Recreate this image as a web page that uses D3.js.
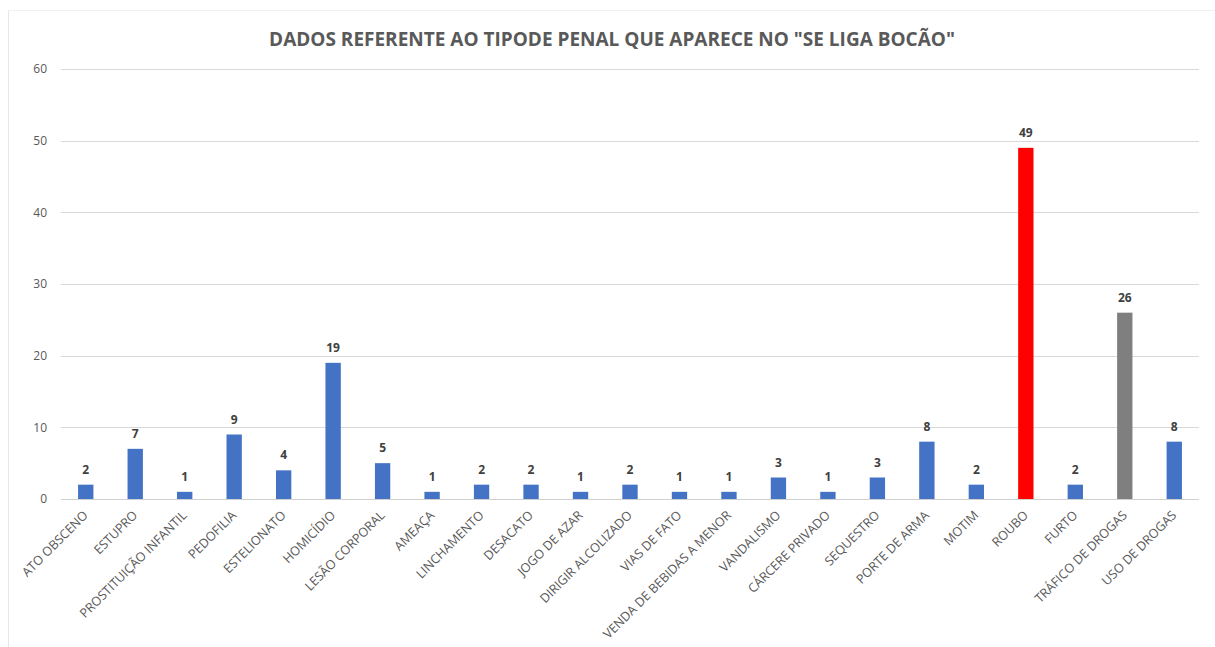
<!DOCTYPE html>
<html>
<head>
<meta charset="utf-8">
<script src="https://cdn.jsdelivr.net/npm/d3@7"></script>
<style>
  body { margin: 0; background: #fff; }
  svg, svg text { font-family: "Open Sans", "Liberation Sans", sans-serif; }
  svg { display: block; }
</style>
</head>
<body>
<div id="chart"></div>
<script>
// dados do grafico
var categorias = ["ATO OBSCENO", "ESTUPRO", "PROSTITUIÇÃO INFANTIL", "PEDOFILIA", "ESTELIONATO",
  "HOMICÍDIO", "LESÃO CORPORAL", "AMEAÇA", "LINCHAMENTO", "DESACATO", "JOGO DE AZAR",
  "DIRIGIR ALCOLIZADO", "VIAS DE FATO", "VENDA DE BEBIDAS A MENOR", "VANDALISMO",
  "CÁRCERE PRIVADO", "SEQUESTRO", "PORTE DE ARMA", "MOTIM", "ROUBO", "FURTO",
  "TRÁFICO DE DROGAS", "USO DE DROGAS"];
var valores = [2, 7, 1, 9, 4, 19, 5, 1, 2, 2, 1, 2, 1, 1, 3, 1, 3, 8, 2, 49, 2, 26, 8];
var destaques = {"ROUBO": "#ff0000", "TRÁFICO DE DROGAS": "#7f7f7f"};
var ticksY = [0, 10, 20, 30, 40, 50, 60];
var titulo = 'DADOS REFERENTE AO TIPODE PENAL QUE APARECE NO "SE LIGA BOCÃO"';

var width = 1215, height = 647;
var plotL = 61, plotR = 1199, plotT = 69, plotB = 499;

var svg = d3.select("#chart").append("svg")
    .attr("width", width)
    .attr("height", height);

// borda fraca do grafico
svg.append("line").attr("x1", 8.5).attr("x2", 8.5).attr("y1", 10).attr("y2", height)
    .attr("stroke", "#e6e6e6");
svg.append("line").attr("x1", 8).attr("x2", width).attr("y1", 10.5).attr("y2", 10.5)
    .attr("stroke", "#f0f0f0");

var x = d3.scaleBand()
    .domain(categorias)
    .range([plotL, plotR])
    .paddingInner(0.69)
    .paddingOuter(0.345);

var y = d3.scaleLinear()
    .domain([0, 60])
    .range([plotB, plotT]);

// grade
svg.append("g").selectAll("line")
    .data(ticksY)
    .enter().append("line")
        .attr("x1", plotL)
        .attr("x2", plotR)
        .attr("y1", function(d) { return Math.round(y(d)) + 0.5; })
        .attr("y2", function(d) { return Math.round(y(d)) + 0.5; })
        .attr("stroke", function(d) { return d === 0 ? "#d0d0d0" : "#d9d9d9"; })
        .attr("stroke-width", 1);

var yAxis = svg.append("g")
    .attr("transform", "translate(" + (plotL - 14) + ",0)")
    .call(d3.axisLeft(y).tickValues(ticksY).tickSize(0).tickPadding(0));
yAxis.select(".domain").remove();
yAxis.selectAll("text")
    .attr("fill", "#595959")
    .style("font-family", "'Open Sans', sans-serif")
    .style("font-size", "12px");

// barras
svg.append("g").selectAll("rect")
    .data(valores)
    .enter().append("rect")
        .attr("x", function(d, i) { return x(categorias[i]); })
        .attr("y", function(d) { return y(d); })
        .attr("width", x.bandwidth())
        .attr("height", function(d) { return y(0) - y(d); })
        .attr("fill", function(d, i) { return destaques[categorias[i]] || "#4472c4"; });

// rotulos de valor
svg.append("g").selectAll("text")
    .data(valores)
    .enter().append("text")
        .attr("x", function(d, i) { return x(categorias[i]) + x.bandwidth() / 2; })
        .attr("y", function(d) { return y(d) - 11; })
        .attr("text-anchor", "middle")
        .attr("fill", "#404040")
        .style("font-size", "12px")
        .style("font-weight", "bold")
        .text(function(d) { return d; });

// rotulos das categorias
var xAxis = svg.append("g")
    .attr("transform", "translate(0," + plotB + ")")
    .call(d3.axisBottom(x).tickSize(0).tickPadding(0));
xAxis.select(".domain").remove();
xAxis.selectAll("text")
    .attr("fill", "#595959")
    .style("font-family", "'Open Sans', sans-serif")
    .style("font-size", "12.6px")
    .attr("text-anchor", "end")
    .attr("dy", null)
    .attr("y", 0)
    .attr("transform", "translate(3,17) rotate(-45)");

// titulo
svg.append("text")
    .attr("x", 612)
    .attr("y", 46)
    .attr("text-anchor", "middle")
    .attr("fill", "#595959")
    .style("font-size", "19px")
    .style("font-weight", "bold")
    .text(titulo);
</script>
</body>
</html>
